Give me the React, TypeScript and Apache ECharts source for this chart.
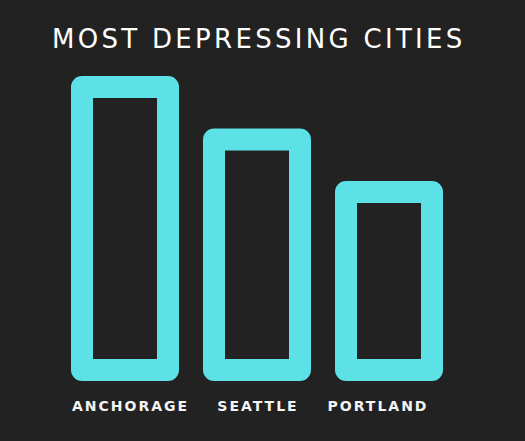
import React, { useEffect, useRef } from "react";
import * as echarts from "echarts";

const categories = ["ANCHORAGE", "SEATTLE", "PORTLAND"];
const values = [61, 50.5, 40];
const titleText = "MOST DEPRESSING CITIES";
// small horizontal nudges of the city labels, as in the reference layout
const labelPad: Record<string, number[]> = {
  ANCHORAGE: [0, 0, 0, 11],
  SEATTLE: [0, 0, 0, 2],
  PORTLAND: [0, 22, 0, 0],
};

export default function App() {
  const ref = useRef<HTMLDivElement>(null);
  useEffect(() => {
    document.body.style.margin = "0";
    const chart = echarts.init(ref.current!, null, { renderer: "svg" });
    const rich: Record<string, any> = {};
    categories.forEach((c, i) => {
      rich["c" + i] = {
        color: "#f4f4f4",
        fontFamily: "DejaVu Sans",
        fontWeight: "bold",
        fontSize: 14,
        padding: labelPad[c],
      };
    });
    chart.setOption({
      animation: false,
      backgroundColor: "#222222",
      title: {
        text: titleText,
        left: 47,
        top: 21,
        textStyle: {
          color: "#ffffff",
          fontFamily: "DejaVu Sans",
          fontWeight: "normal",
          fontSize: 26,
        },
      },
      grid: { left: 59, right: 70, top: 31, bottom: 60 },
      xAxis: {
        type: "category",
        data: categories,
        axisLine: { show: false },
        axisTick: { show: false },
        axisLabel: {
          margin: 18,
          interval: 0,
          formatter: (v: string) => `{c${categories.indexOf(v)}|${v}}`,
          rich,
        },
      },
      yAxis: {
        type: "value",
        min: 0,
        max: 70,
        show: false,
        splitLine: { show: false },
      },
      series: [
        {
          type: "bar",
          data: values,
          barWidth: 108,
          itemStyle: {
            color: "#222222",
            borderColor: "#5ce1e6",
            borderWidth: 22,
            borderJoin: "round",
          },
        },
      ],
    });
    const applySpacing = () => {
      const texts = ref.current?.querySelectorAll("text") || [];
      texts.forEach((t) => {
        const s = (t.textContent || "").trim();
        if (s === titleText) t.setAttribute("letter-spacing", "3.3");
        else if (categories.includes(s)) t.setAttribute("letter-spacing", "2.0");
      });
    };
    applySpacing();
    chart.on("finished", applySpacing);
    return () => chart.dispose();
  }, []);
  return <div ref={ref} style={{ width: 525, height: 441 }} />;
}
